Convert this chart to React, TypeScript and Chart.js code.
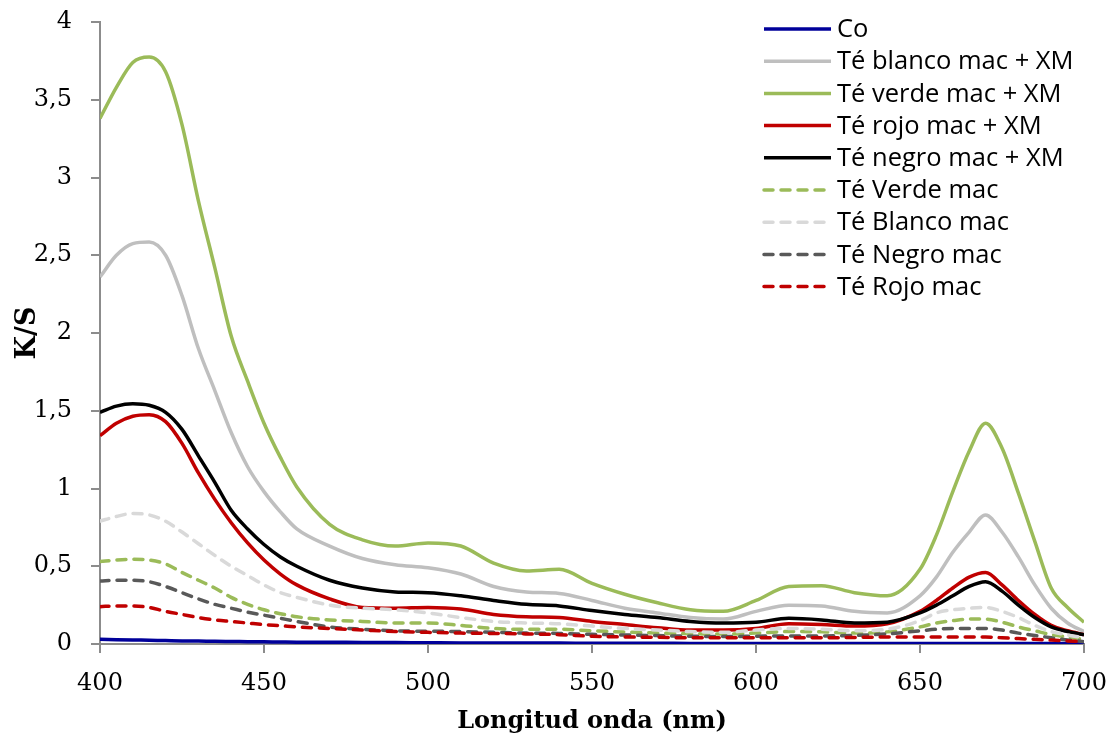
import React, { useEffect, useRef } from 'react';
import { Chart, registerables } from 'chart.js';

Chart.register(...registerables);

const wavelengths = [400, 405, 410, 415, 420, 425, 430, 435, 440, 445, 450, 455, 460, 470, 480, 490, 500, 510, 520, 530, 540, 550, 560, 570, 580, 590, 600, 610, 620, 630, 640, 650, 655, 660, 665, 670, 675, 680, 685, 690, 695, 700];

const co = [0.03, 0.028, 0.026, 0.024, 0.022, 0.02, 0.019, 0.017, 0.016, 0.015, 0.014, 0.013, 0.012, 0.011, 0.01, 0.009, 0.008, 0.007, 0.007, 0.006, 0.006, 0.005, 0.005, 0.005, 0.004, 0.004, 0.004, 0.004, 0.004, 0.004, 0.004, 0.004, 0.004, 0.004, 0.004, 0.004, 0.004, 0.003, 0.003, 0.003, 0.003, 0.003];
const blancoXM = [2.36, 2.5, 2.575, 2.585, 2.5, 2.24, 1.9, 1.63, 1.36, 1.14, 0.98, 0.85, 0.74, 0.63, 0.55, 0.51, 0.49, 0.45, 0.37, 0.335, 0.325, 0.28, 0.23, 0.2, 0.17, 0.16, 0.21, 0.25, 0.245, 0.21, 0.2, 0.31, 0.43, 0.59, 0.72, 0.83, 0.72, 0.56, 0.38, 0.23, 0.135, 0.08];
const verdeXM = [3.38, 3.58, 3.74, 3.775, 3.68, 3.34, 2.85, 2.42, 1.98, 1.69, 1.42, 1.2, 1.01, 0.77, 0.67, 0.63, 0.65, 0.63, 0.52, 0.47, 0.48, 0.39, 0.32, 0.265, 0.22, 0.21, 0.28, 0.37, 0.375, 0.33, 0.31, 0.48, 0.7, 0.98, 1.24, 1.42, 1.26, 0.97, 0.66, 0.36, 0.235, 0.14];
const rojoXM = [1.34, 1.42, 1.465, 1.475, 1.43, 1.29, 1.1, 0.93, 0.78, 0.65, 0.54, 0.45, 0.38, 0.29, 0.235, 0.23, 0.235, 0.225, 0.19, 0.175, 0.17, 0.145, 0.125, 0.105, 0.09, 0.09, 0.1, 0.13, 0.125, 0.115, 0.13, 0.21, 0.28, 0.36, 0.43, 0.46, 0.38, 0.28, 0.19, 0.12, 0.085, 0.06];
const negroXM = [1.49, 1.53, 1.545, 1.535, 1.49, 1.38, 1.21, 1.04, 0.86, 0.74, 0.64, 0.56, 0.5, 0.41, 0.36, 0.335, 0.33, 0.31, 0.28, 0.255, 0.245, 0.215, 0.19, 0.17, 0.145, 0.135, 0.14, 0.165, 0.155, 0.135, 0.14, 0.2, 0.25, 0.31, 0.37, 0.4, 0.34, 0.25, 0.17, 0.11, 0.08, 0.06];
const verdeMac = [0.53, 0.54, 0.545, 0.54, 0.515, 0.46, 0.41, 0.36, 0.3, 0.255, 0.22, 0.195, 0.175, 0.155, 0.145, 0.135, 0.135, 0.12, 0.1, 0.095, 0.095, 0.085, 0.077, 0.07, 0.066, 0.064, 0.07, 0.08, 0.078, 0.07, 0.078, 0.11, 0.135, 0.15, 0.16, 0.16, 0.14, 0.11, 0.085, 0.06, 0.045, 0.03];
const blancoMac = [0.79, 0.82, 0.84, 0.83, 0.79, 0.72, 0.645, 0.57, 0.5, 0.44, 0.38, 0.33, 0.3, 0.25, 0.23, 0.22, 0.2, 0.17, 0.145, 0.135, 0.13, 0.115, 0.1, 0.09, 0.08, 0.075, 0.09, 0.1, 0.095, 0.085, 0.095, 0.15, 0.2, 0.22, 0.23, 0.235, 0.21, 0.17, 0.12, 0.08, 0.058, 0.04];
const negroMac = [0.405, 0.41, 0.41, 0.4, 0.37, 0.33, 0.29, 0.255, 0.23, 0.205, 0.185, 0.165, 0.145, 0.11, 0.095, 0.085, 0.082, 0.08, 0.075, 0.07, 0.068, 0.062, 0.058, 0.054, 0.05, 0.048, 0.05, 0.052, 0.052, 0.055, 0.065, 0.085, 0.095, 0.1, 0.1, 0.1, 0.09, 0.07, 0.055, 0.04, 0.026, 0.015];
const rojoMac = [0.24, 0.245, 0.245, 0.235, 0.21, 0.19, 0.17, 0.155, 0.145, 0.135, 0.125, 0.118, 0.11, 0.1, 0.09, 0.08, 0.075, 0.07, 0.068, 0.065, 0.06, 0.05, 0.045, 0.043, 0.04, 0.04, 0.04, 0.04, 0.04, 0.042, 0.045, 0.045, 0.045, 0.045, 0.045, 0.045, 0.04, 0.035, 0.03, 0.025, 0.02, 0.015];

const seriesLabels = ['Co', 'Té blanco mac + XM', 'Té verde mac + XM', 'Té rojo mac + XM', 'Té negro mac + XM', 'Té Verde mac', 'Té Blanco mac', 'Té Negro mac', 'Té Rojo mac'];
const seriesValues = [co, blancoXM, verdeXM, rojoXM, negroXM, verdeMac, blancoMac, negroMac, rojoMac];
const seriesColors = ['#00009A', '#BFBFBF', '#9BBB59', '#C00000', '#000000', '#9BBB59', '#D9D9D9', '#595959', '#C00000'];
const seriesDashed = [false, false, false, false, false, true, true, true, true];

const xTitle = 'Longitud onda (nm)';
const yTitle = 'K/S';

const DASH = [9, 8];

const insideLegend = {
  id: 'insideLegend',
  afterDraw(chart: any) {
    const ctx = chart.ctx;
    const top = 29;
    const step = 32.2;
    ctx.save();
    chart.data.datasets.forEach((ds: any, i: number) => {
      const y = top + i * step;
      ctx.beginPath();
      ctx.strokeStyle = ds.borderColor;
      ctx.lineWidth = ds.borderWidth;
      ctx.setLineDash(ds.borderDash || []);
      ctx.lineCap = ds.borderCapStyle || 'butt';
      ctx.moveTo(764, y);
      ctx.lineTo(831, y);
      ctx.stroke();
      ctx.setLineDash([]);
      ctx.fillStyle = '#000000';
      ctx.font = '25.5px "Open Sans"';
      ctx.textBaseline = 'middle';
      ctx.textAlign = 'left';
      ctx.fillText(ds.label, 837, y + 1);
    });
    ctx.restore();
  },
};

export default function App() {
  const canvasRef = useRef<HTMLCanvasElement>(null);

  useEffect(() => {
    if (!canvasRef.current) return;
    const n = seriesLabels.length;
    const datasets = seriesLabels.map((label, i) => ({
      label,
      data: wavelengths.map((w, j) => ({ x: w, y: seriesValues[i][j] })),
      borderColor: seriesColors[i],
      backgroundColor: seriesColors[i],
      borderWidth: 3.5,
      borderDash: seriesDashed[i] ? DASH : [],
      borderCapStyle: seriesDashed[i] ? 'round' : 'butt',
      pointRadius: 0,
      cubicInterpolationMode: 'monotone',
      fill: false,
      order: n - i,
    }));

    const chart = new Chart(canvasRef.current, {
      type: 'line',
      data: { datasets: datasets as any },
      plugins: [insideLegend],
      options: {
        animation: false,
        responsive: false,
        layout: { padding: { top: 22, right: 29, bottom: 0, left: 0 } },
        plugins: {
          legend: { display: false },
          tooltip: { enabled: false },
        },
        scales: {
          x: {
            type: 'linear',
            min: 400,
            max: 700,
            afterFit: (s: any) => { s.height = 99; s.paddingLeft = 0; s.paddingRight = 0; },
            ticks: {
              stepSize: 50,
              padding: 16,
              color: '#000000',
              font: { family: '"DejaVu Serif"', size: 24 },
              maxRotation: 0,
            },
            grid: { drawOnChartArea: false, drawTicks: true, tickLength: 9, color: '#8C8C8C', lineWidth: 2 },
            border: { color: '#8C8C8C', width: 2 },
            title: {
              display: true,
              text: xTitle,
              color: '#000000',
              font: { family: '"DejaVu Serif"', size: 24, weight: 'bold' },
              padding: { top: 0, bottom: 7 },
            },
          },
          y: {
            type: 'linear',
            min: 0,
            max: 4,
            afterFit: (s: any) => { s.width = 100; s.paddingTop = 0; s.paddingBottom = 0; },
            ticks: {
              stepSize: 0.5,
              padding: 19,
              color: '#000000',
              font: { family: '"DejaVu Serif"', size: 24 },
              callback: (v: any) => String(v).replace('.', ','),
            },
            grid: { drawOnChartArea: false, drawTicks: true, tickLength: 9, color: '#8C8C8C', lineWidth: 2 },
            border: { color: '#8C8C8C', width: 2 },
            title: {
              display: true,
              text: yTitle,
              color: '#000000',
              font: { family: '"DejaVu Serif"', size: 27, weight: 'bold' },
              padding: { top: 12, bottom: 0 },
            },
          },
        },
      } as any,
    });
    return () => chart.destroy();
  }, []);

  return (
    <div style={{ position: 'fixed', left: 0, top: 0, width: 1113, height: 743, background: '#ffffff' }}>
      <canvas ref={canvasRef} width={1113} height={743} />
    </div>
  );
}
